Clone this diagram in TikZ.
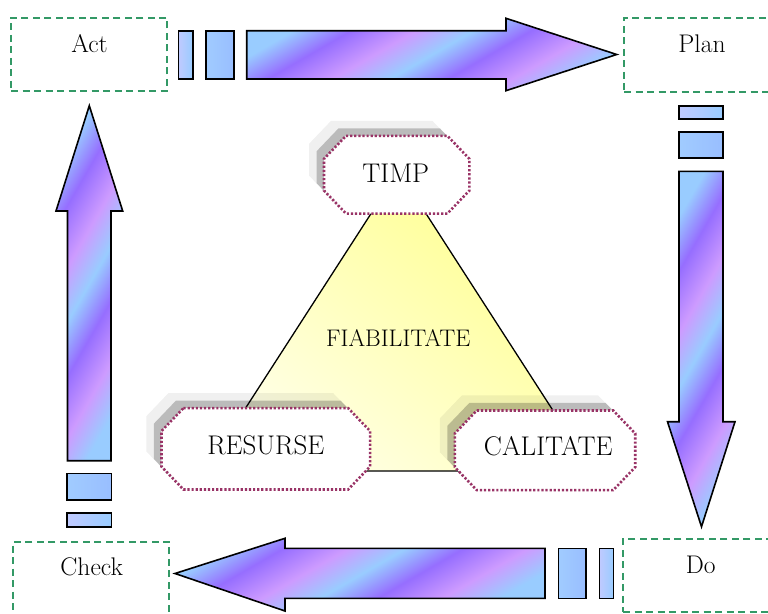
\documentclass[tikz,border=0pt]{standalone}
\usetikzlibrary{calc}
\definecolor{lb}{RGB}{153,204,255}
\definecolor{vi}{RGB}{150,110,255}
\definecolor{pk}{RGB}{205,155,255}
\definecolor{lv}{RGB}{192,202,255}
\definecolor{boxgreen}{RGB}{51,153,102}
\definecolor{dotred}{RGB}{153,51,102}
\definecolor{yel}{RGB}{255,255,140}
\definecolor{paleyel}{RGB}{255,255,232}
\pgfdeclarehorizontalshading{pdca}{100bp}{color(0bp)=(lb); color(25bp)=(lb); color(33bp)=(vi); color(42bp)=(pk); color(50bp)=(lb); color(58bp)=(vi); color(67bp)=(pk); color(75bp)=(lb); color(100bp)=(lb)}
\newcommand\myocta[1]{([xshift=22pt]#1.north west) -- ([xshift=-22pt]#1.north east) -- ([yshift=-23pt]#1.north east) -- ([yshift=23pt]#1.south east) -- ([xshift=-22pt]#1.south east) -- ([xshift=22pt]#1.south west) -- ([yshift=23pt]#1.south west) -- ([yshift=-23pt]#1.north west) -- cycle}
\begin{document}
\begin{tikzpicture}[x=1pt,y=-1pt,
  phasebox/.style={draw=boxgreen, line width=1.7pt, dash pattern=on 7pt off 4.5pt, inner sep=0pt},
  phasetext/.style={anchor=base, inner sep=0pt, font=\fontsize{25.5}{29}\selectfont},
  octbox/.style={inner sep=0pt},
  octtext/.style={anchor=base, inner sep=0pt, font=\fontsize{27}{31}\selectfont},
  octline/.style={draw=dotred, line width=2.6pt, dash pattern=on 2.2pt off 1.9pt, fill=white},
  shadowfar/.style={fill=black, fill opacity=0.06},
  shadownear/.style={fill=black, fill opacity=0.22},
  bigarrow/.style={draw=black, line width=1.6pt, line join=miter, shading=pdca},
  smallbar/.style={draw=black, line width=1.6pt, left color=lv, right color=lb},
  midbar/.style={draw=black, line width=1.6pt, left color=lb!80!lv, right color=lb!85!vi},
]
\useasboundingbox (0,0) rectangle (768,613);

% phase boxes
\node[phasebox, minimum width=156pt, minimum height=73.3pt] (act) at (89,54.3) {};
\node[phasebox, minimum width=166pt, minimum height=74pt] (plan) at (707,54.8) {};
\node[phasebox, minimum width=156pt, minimum height=98pt] (check) at (91.3,590.7) {};
\node[phasebox, minimum width=177pt, minimum height=72.4pt] (do) at (711.5,575.5) {};
\node[phasetext] (acttext) at (89.5,52.7) {Act};
\node[phasetext] (plantext) at (702,52.7) {Plan};
\node[phasetext] (checktext) at (91.7,575) {Check};
\node[phasetext] (dotext) at (700.8,573.3) {Do};

% top arrow (Act -> Plan)
\draw[smallbar] (178.3,30.7) rectangle (192.7,79);
\draw[midbar] (205.7,30.7) rectangle (233.7,79);
\draw[bigarrow, shading angle=-60] (246.7,30.7) -- (506,30.7) -- (506,18.3) -- (616.7,54.5) -- (506,90.7) -- (506,79) -- (246.7,79) -- cycle;

% right arrow (Plan -> Do)
\draw[smallbar] (679,106) rectangle (723,119);
\draw[midbar] (679,132) rectangle (723,158);
\draw[bigarrow, shading angle=-30] (679,171.3) -- (723,171.3) -- (723,421.7) -- (735,421.7) -- (701.5,526.7) -- (667.5,421.7) -- (679,421.7) -- cycle;

% bottom arrow (Do -> Check)
\draw[smallbar] (599.3,548.3) rectangle (613.3,598.3);
\draw[midbar] (558.3,548.3) rectangle (585.7,598.3);
\draw[bigarrow, shading angle=-60] (545,548.3) -- (545,598.3) -- (285,598.3) -- (285,611) -- (175,573.5) -- (285,538.3) -- (285,548.3) -- cycle;

% left arrow (Check -> Act)
\draw[smallbar] (67,512.7) rectangle (111.5,526.7);
\draw[midbar] (67,473.3) rectangle (111.5,500);
\draw[bigarrow, shading angle=-30] (67.5,460.7) -- (111,460.7) -- (111,211) -- (122.7,211) -- (89.3,105.7) -- (56,211) -- (67.5,211) -- cycle;

% central triangle
\coordinate (ttop) at (398.5,171);
\coordinate (tleft) at (205,471);
\coordinate (tright) at (592,471);
\draw[line width=1.3pt, top color=yel, bottom color=paleyel, shading angle=-40] (ttop) -- (tright) -- (tleft) -- cycle;
\node[anchor=base, inner sep=0pt, font=\fontsize{24}{28}\selectfont] (fiab) at (398.3,346.7) {FIABILITATE};

% octagon nodes
\node[octbox, minimum width=145pt, minimum height=77.3pt] (timp) at (396.7,174.7) {};
\node[octbox, minimum width=208.3pt, minimum height=81pt] (res) at (265.8,448.8) {};
\node[octbox, minimum width=180pt, minimum height=79.3pt] (cal) at (545,450.3) {};

\foreach \n in {timp,res,cal}{
  \fill[shadowfar, transform canvas={xshift=-15pt,yshift=15pt}] \myocta{\n};
  \fill[shadownear, transform canvas={xshift=-7.5pt,yshift=7.5pt}] \myocta{\n};
}
\foreach \n in {timp,res,cal}{
  \path[octline] \myocta{\n};
}
\node[octtext] (timptext) at (395.8,182.7) {TIMP};
\node[octtext] (restext) at (265.8,454) {RESURSE};
\node[octtext] (caltext) at (548.3,455) {CALITATE};
\end{tikzpicture}
\end{document}
